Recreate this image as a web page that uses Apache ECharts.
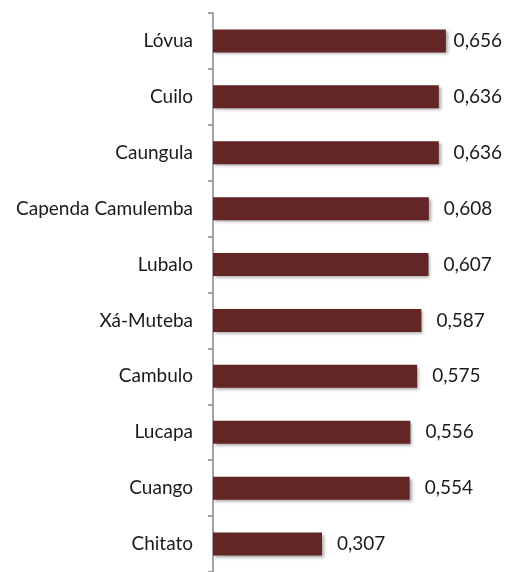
<!DOCTYPE html>
<html>
<head>
<meta charset="utf-8">
<script src="https://cdn.jsdelivr.net/npm/echarts@6/dist/echarts.min.js"></script>
<style>
  html, body { margin: 0; padding: 0; background: #fff; }
  #main { width: 505px; height: 572px; }
</style>
</head>
<body>
<div id="main"></div>
<script>
// municípios, de baixo para cima (como no eixo)
const municipios = ['Chitato', 'Cuango', 'Lucapa', 'Cambulo', 'Xá-Muteba', 'Lubalo',
  'Capenda Camulemba', 'Caungula', 'Cuilo', 'Lóvua'];
const valores = [0.307, 0.554, 0.556, 0.575, 0.587, 0.607, 0.608, 0.636, 0.636, 0.656];

const fonte = 'Lato, "Open Sans", sans-serif';

const chart = echarts.init(document.getElementById('main'));
chart.setOption({
  animation: false,
  grid: { left: 213, right: 8, top: 13, bottom: -8 },
  xAxis: {
    type: 'value',
    min: 0,
    max: 0.8,
    show: false
  },
  yAxis: {
    type: 'category',
    data: municipios,
    axisLine: { lineStyle: { color: '#868686', width: 1.5 } },
    axisTick: { show: true, length: 5, lineStyle: { color: '#868686', width: 1.5 } },
    axisLabel: { color: '#1a1a1a', fontSize: 19, fontFamily: fonte, margin: 20 }
  },
  series: [{
    type: 'bar',
    data: valores,
    barWidth: 23,
    itemStyle: {
      color: '#632526',
      shadowColor: 'rgba(0,0,0,0.35)',
      shadowBlur: 3,
      shadowOffsetX: 2,
      shadowOffsetY: 2
    },
    label: {
      show: true,
      position: 'right',
      distance: 15,
      color: '#1a1a1a',
      fontSize: 19,
      fontFamily: fonte,
      formatter: p => p.value.toFixed(3).replace('.', ',')
    },
    // como no Excel: rótulos que sairiam da área são encostados à direita
    labelLayout: p => {
      const r = p.labelRect;
      const limite = chart.getWidth() - 3;
      if (r.x + r.width > limite) {
        return {
          x: limite - r.width,
          y: r.y + r.height / 2,
          align: 'left',
          verticalAlign: 'middle'
        };
      }
      return {};
    }
  }]
});
</script>
</body>
</html>
